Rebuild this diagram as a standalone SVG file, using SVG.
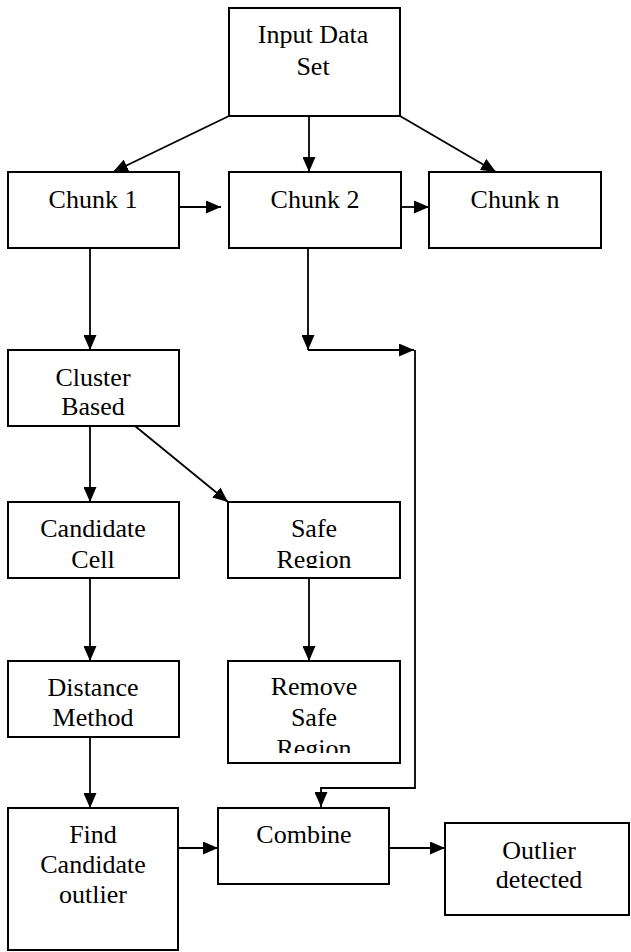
<svg xmlns="http://www.w3.org/2000/svg" width="631" height="952" viewBox="0 0 631 952">
<style>
.box{fill:#fff;stroke:#000;stroke-width:2}
.t{font-family:"Liberation Serif","Times New Roman",serif;font-size:26px;fill:#000;text-anchor:middle}
.c{fill:none;stroke:#000;stroke-width:1.8}
</style>
<defs>
<marker id="ah" markerUnits="userSpaceOnUse" markerWidth="15" markerHeight="13" viewBox="0 0 15 13" refX="15" refY="6.5" orient="auto">
<path d="M0,0 L15,6.5 L0,13 Z" fill="#000"/>
</marker>
<clipPath id="clipSafe"><rect x="228" y="502" width="172" height="66"/></clipPath>
<clipPath id="clipRemove"><rect x="228" y="661" width="172" height="92"/></clipPath>
</defs>
<rect width="631" height="952" fill="#fff"/>
<g id="connectors">
<line class="c" x1="229" y1="116" x2="113" y2="172" marker-end="url(#ah)"/>
<line class="c" x1="309" y1="116" x2="309" y2="172" marker-end="url(#ah)"/>
<line class="c" x1="400" y1="116" x2="496" y2="172" marker-end="url(#ah)"/>
<line class="c" x1="179" y1="207" x2="221" y2="207" marker-end="url(#ah)"/>
<line class="c" x1="401" y1="207" x2="429" y2="207" marker-end="url(#ah)"/>
<line class="c" x1="90" y1="248" x2="90" y2="350" marker-end="url(#ah)"/>
<line class="c" x1="308" y1="248" x2="308" y2="350" marker-end="url(#ah)"/>
<line class="c" x1="308" y1="350" x2="414" y2="350" marker-end="url(#ah)"/>
<polyline class="c" points="415,350 415,788 321,788 321,807" marker-end="url(#ah)"/>
<line class="c" x1="90" y1="426" x2="90" y2="502" marker-end="url(#ah)"/>
<line class="c" x1="135" y1="426" x2="228" y2="502" marker-end="url(#ah)"/>
<line class="c" x1="90" y1="578" x2="90" y2="661" marker-end="url(#ah)"/>
<line class="c" x1="309" y1="578" x2="309" y2="661" marker-end="url(#ah)"/>
<line class="c" x1="90" y1="737" x2="90" y2="808" marker-end="url(#ah)"/>
<line class="c" x1="178" y1="848" x2="218" y2="848" marker-end="url(#ah)"/>
<line class="c" x1="389" y1="848" x2="445" y2="848" marker-end="url(#ah)"/>
</g>
<g id="input">
<rect class="box" x="229" y="8" width="171" height="108"/>
<text class="t" x="313" y="43">Input Data</text>
<text class="t" x="313" y="75">Set</text>
</g>
<g id="chunk1">
<rect class="box" x="8" y="172" width="171" height="76"/>
<text class="t" x="93" y="208">Chunk 1</text>
</g>
<g id="chunk2">
<rect class="box" x="229" y="172" width="172" height="76"/>
<text class="t" x="315" y="208">Chunk 2</text>
</g>
<g id="chunkn">
<rect class="box" x="429" y="172" width="172" height="76"/>
<text class="t" x="515" y="208">Chunk n</text>
</g>
<g id="cluster">
<rect class="box" x="8" y="350" width="171" height="76"/>
<text class="t" x="93" y="386">Cluster</text>
<text class="t" x="93" y="415">Based</text>
</g>
<g id="candidate">
<rect class="box" x="8" y="502" width="171" height="76"/>
<text class="t" x="93" y="537">Candidate</text>
<text class="t" x="93" y="568">Cell</text>
</g>
<g id="safe">
<rect class="box" x="228" y="502" width="172" height="76"/>
<g clip-path="url(#clipSafe)">
<text class="t" x="314" y="537">Safe</text>
<text class="t" x="314" y="568">Region</text>
</g>
</g>
<g id="distance">
<rect class="box" x="8" y="661" width="171" height="76"/>
<text class="t" x="93" y="696">Distance</text>
<text class="t" x="93" y="726">Method</text>
</g>
<g id="remove">
<rect class="box" x="228" y="661" width="172" height="102"/>
<g clip-path="url(#clipRemove)">
<text class="t" x="314" y="695">Remove</text>
<text class="t" x="314" y="726">Safe</text>
<text class="t" x="314" y="757">Region</text>
</g>
</g>
<g id="find">
<rect class="box" x="8" y="808" width="170" height="142"/>
<text class="t" x="93" y="843">Find</text>
<text class="t" x="93" y="873">Candidate</text>
<text class="t" x="93" y="903">outlier</text>
</g>
<g id="combine">
<rect class="box" x="218" y="808" width="171" height="76"/>
<text class="t" x="304" y="843">Combine</text>
</g>
<g id="outlier">
<rect class="box" x="445" y="823" width="184" height="92"/>
<text class="t" x="539" y="859">Outlier</text>
<text class="t" x="539" y="888">detected</text>
</g>
</svg>
